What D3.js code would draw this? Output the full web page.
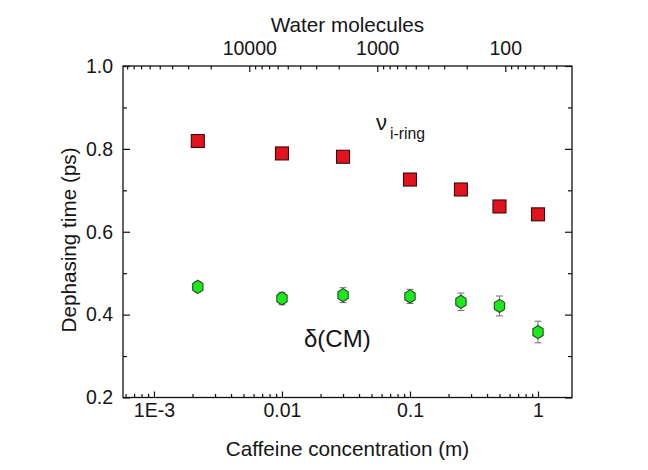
<!DOCTYPE html>
<html><head><meta charset="utf-8">
<script src="https://cdn.jsdelivr.net/npm/d3@7"></script>
<style>
body{margin:0;background:#fff}
text{font-family:"Liberation Sans",Arial,sans-serif;fill:#151515}
</style>
</head><body>
<svg id="c" width="648" height="470"></svg>
<script>
// ---- data ----
const concentration = [0.0022, 0.01, 0.03, 0.1, 0.25, 0.5, 1];            // caffeine (m)
const ringTime = [0.819, 0.789, 0.781, 0.726, 0.702, 0.661, 0.642];        // nu i-ring (ps)
const cmTime = [0.467, 0.439, 0.447, 0.444, 0.431, 0.421, 0.358];          // delta(CM) (ps)
const cmError = [0.012, 0.015, 0.018, 0.017, 0.021, 0.024, 0.026];
const xTickValues = [0.001, 0.01, 0.1, 1];
const xTickLabels = ["1E-3", "0.01", "0.1", "1"];
const yTickValues = [0.2, 0.4, 0.6, 0.8, 1.0];
const yMinorValues = [0.3, 0.5, 0.7, 0.9];
const waterTickValues = [10000, 1000, 100];
const waterPerMolal = 55.5;

// ---- layout ----
const svg = d3.select("#c");
const L = 123, R = 572, T = 66, B = 397.5;
const x = d3.scaleLog().domain([5.73e-4, 1.843]).range([L, R]);
const y = d3.scaleLinear().domain([0.2, 1.0]).range([B, T]);

const xMinor = [];
[1e-4, 1e-3, 1e-2, 1e-1, 1].forEach(d => { for (let m = 2; m <= 9; m++) { const v = m * d; if (v > x.domain()[0] && v < x.domain()[1]) xMinor.push(v); } });
const wMinor = [];
[10, 100, 1000, 10000].forEach(d => { for (let m = 2; m <= 9; m++) { const n = m * d; const c = waterPerMolal / n; if (c > x.domain()[0] && c < x.domain()[1]) wMinor.push(c); } });

const fs = "19.5px";
function styleAxis(g) {
  g.select(".domain").remove();
  g.selectAll("line").attr("stroke", "#111").attr("stroke-width", 1.2);
  g.selectAll("text").style("font-size", fs).attr("fill", "#151515");
}

// bottom
svg.append("g").attr("transform", `translate(0,${B})`)
  .call(d3.axisBottom(x).tickValues(xTickValues).tickFormat((d, i) => xTickLabels[i]).tickSizeInner(-6).tickSizeOuter(0).tickPadding(6))
  .call(styleAxis);
svg.append("g").attr("transform", `translate(0,${B})`)
  .call(d3.axisBottom(x).tickValues(xMinor).tickFormat("").tickSizeInner(-3.5).tickSizeOuter(0))
  .call(styleAxis);
// top (water molecules)
svg.append("g").attr("transform", `translate(0,${T})`)
  .call(d3.axisTop(x).tickValues(waterTickValues.map(n => waterPerMolal / n)).tickFormat((d, i) => String(waterTickValues[i])).tickSizeInner(-6).tickSizeOuter(0).tickPadding(11))
  .call(styleAxis);
svg.append("g").attr("transform", `translate(0,${T})`)
  .call(d3.axisTop(x).tickValues(wMinor).tickFormat("").tickSizeInner(-3.5).tickSizeOuter(0))
  .call(styleAxis);
// left
svg.append("g").attr("transform", `translate(${L},0)`)
  .call(d3.axisLeft(y).tickValues(yTickValues).tickFormat(d3.format(".1f")).tickSizeInner(-7).tickSizeOuter(0).tickPadding(10))
  .call(styleAxis);
svg.append("g").attr("transform", `translate(${L},0)`)
  .call(d3.axisLeft(y).tickValues(yMinorValues).tickFormat("").tickSizeInner(-4).tickSizeOuter(0))
  .call(styleAxis);
// right
svg.append("g").attr("transform", `translate(${R},0)`)
  .call(d3.axisRight(y).tickValues(yTickValues).tickFormat("").tickSizeInner(-7).tickSizeOuter(0))
  .call(styleAxis);
svg.append("g").attr("transform", `translate(${R},0)`)
  .call(d3.axisRight(y).tickValues(yMinorValues).tickFormat("").tickSizeInner(-4).tickSizeOuter(0))
  .call(styleAxis);

// frame
svg.append("rect").attr("x", L).attr("y", T).attr("width", R - L).attr("height", B - T)
  .attr("fill", "none").attr("stroke", "#111").attr("stroke-width", 1.3);

// axis titles
svg.append("text").attr("x", (L + R) / 2).attr("y", 32).attr("text-anchor", "middle")
  .style("font-size", "20.7px").text("Water molecules");
svg.append("text").attr("x", (L + R) / 2).attr("y", 456).attr("text-anchor", "middle")
  .style("font-size", "20.7px").text("Caffeine concentration (m)");
svg.append("text").attr("transform", "translate(76,240) rotate(-90)").attr("text-anchor", "middle")
  .style("font-size", "20.7px").text("Dephasing time (ps)");

// error bars (delta CM)
const eb = svg.append("g").attr("stroke", "#7a7a7a").attr("stroke-width", 1.1);
concentration.forEach((c, i) => {
  const cx = x(c), y1 = y(cmTime[i] + cmError[i]), y2 = y(cmTime[i] - cmError[i]);
  eb.append("line").attr("x1", cx).attr("x2", cx).attr("y1", y1).attr("y2", y2);
  eb.append("line").attr("x1", cx - 3.5).attr("x2", cx + 3.5).attr("y1", y1).attr("y2", y1);
  eb.append("line").attr("x1", cx - 3.5).attr("x2", cx + 3.5).attr("y1", y2).attr("y2", y2);
});

// squares (nu i-ring)
svg.append("g").selectAll("rect").data(concentration).join("rect")
  .attr("x", (d) => x(d) - 6.5).attr("y", (d, i) => y(ringTime[i]) - 6.5)
  .attr("width", 13).attr("height", 13)
  .attr("fill", "#e3121f").attr("stroke", "#3a0a0a").attr("stroke-width", 1.1);

// hexagons (delta CM)
const hexR = 6.6;
const hexPath = d3.line()(d3.range(6).map(k => {
  const a = Math.PI / 2 + k * Math.PI / 3;
  return [hexR * Math.cos(a) * 0.9, hexR * Math.sin(a)];
})) + "Z";
svg.append("g").selectAll("path").data(concentration).join("path")
  .attr("transform", (d, i) => `translate(${x(d)},${y(cmTime[i])})`)
  .attr("d", hexPath)
  .attr("fill", "#1aea1a").attr("stroke", "#2c4a2c").attr("stroke-width", 1.1);

// annotations
const nu = svg.append("text").attr("x", 376).attr("y", 130).style("font-size", "22px");
nu.append("tspan").text("ν");
nu.append("tspan").attr("x", 390).attr("y", 139).style("font-size", "15.8px").text("i-ring");
svg.append("text").attr("x", 304).attr("y", 347).style("font-size", "24px").text("δ(CM)");
</script>
</body></html>
